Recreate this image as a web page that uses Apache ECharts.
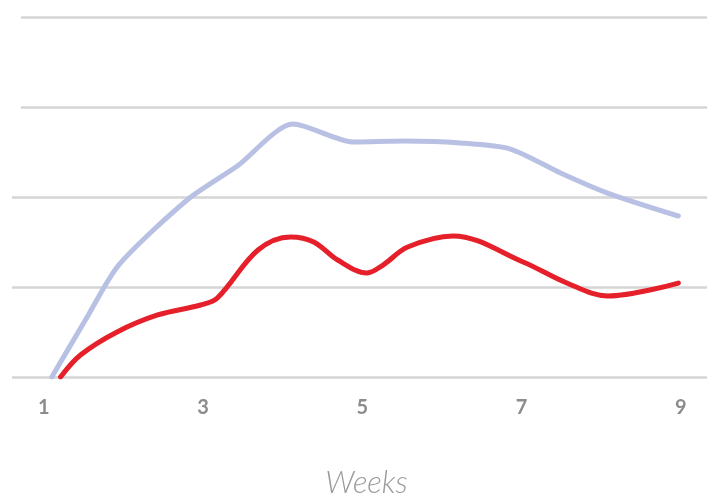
<!DOCTYPE html>
<html>
<head>
<meta charset="utf-8">
<script src="https://cdn.jsdelivr.net/npm/echarts@6/dist/echarts.min.js"></script>
<style>
  html, body { margin: 0; padding: 0; background: #ffffff; }
  #chart { width: 707px; height: 494px; }
</style>
</head>
<body>
<div id="chart"></div>
<script>
// Week ticks shown along the bottom
const weekTicks = [1, 3, 5, 7, 9];

// Upper (lavender) series: [week, value]
const upperWeeks  = [1.10, 1.52, 1.94, 2.80, 3.43, 4.13, 4.89, 5.54, 6.23, 6.86, 7.49, 8.08, 8.97];
const upperValues = [0, 6.3, 12.44, 19.67, 23.44, 28.11, 26.11, 26.22, 26.0, 25.33, 22.67, 20.44, 17.89];

// Lower (red) series: [week, value]
const lowerWeeks  = [1.21, 1.46, 1.92, 2.43, 2.97, 3.18, 3.69, 4.10, 4.39, 4.69, 5.06, 5.26, 5.57, 6.14, 7.02, 7.57, 8.08, 8.97];
const lowerValues = [0, 2.44, 5.0, 6.89, 8.0, 8.78, 14.11, 15.56, 15.0, 13.0, 11.56, 12.44, 14.44, 15.67, 12.78, 10.44, 9.0, 10.44];

const zip = (xs, ys) => xs.map((x, i) => [x, ys[i]]);

const gridColor = '#d5d5d5';
const clear = 'rgba(0,0,0,0)';

const chart = echarts.init(document.getElementById('chart'), null, { renderer: 'canvas' });

chart.setOption({
  animation: false,
  backgroundColor: '#ffffff',
  grid: [
    { left: 12, right: 0, top: 17, height: 360, outerBoundsMode: 'none', containLabel: false },
    { left: 21, right: 0, top: 17, height: 360, outerBoundsMode: 'none', containLabel: false }
  ],
  xAxis: [
    {
      type: 'value',
      gridIndex: 0,
      min: 0.6,
      max: 9.33,
      splitLine: { show: false },
      axisLine: { show: false },
      axisTick: { show: false },
      axisLabel: {
        customValues: weekTicks,
        color: '#8c8c8c',
        fontFamily: 'Lato',
        fontWeight: 'bold',
        fontSize: 20,
        margin: 21
      },
      name: 'Weeks',
      nameLocation: 'middle',
      nameGap: 90,
      nameTextStyle: {
        color: '#9a9a9a',
        fontFamily: 'Lato',
        fontStyle: 'italic',
        fontWeight: 300,
        fontSize: 31,
        padding: [0, 0, 0, 14]
      }
    },
    {
      type: 'value',
      gridIndex: 1,
      min: 0.6,
      max: 9.33,
      show: false
    }
  ],
  yAxis: [
    {
      type: 'value',
      gridIndex: 0,
      min: 0,
      max: 40,
      interval: 10,
      axisLine: { show: false },
      axisTick: { show: false },
      axisLabel: { show: false },
      splitLine: {
        lineStyle: { color: [gridColor, gridColor, gridColor, clear, clear], width: 2.5 }
      }
    },
    {
      type: 'value',
      gridIndex: 1,
      min: 0,
      max: 40,
      interval: 10,
      axisLine: { show: false },
      axisTick: { show: false },
      axisLabel: { show: false },
      splitLine: {
        lineStyle: { color: [clear, clear, clear, gridColor, gridColor], width: 2.5 }
      }
    }
  ],
  series: [
    {
      type: 'line',
      xAxisIndex: 0,
      yAxisIndex: 0,
      data: zip(upperWeeks, upperValues),
      smooth: 0.25,
      showSymbol: false,
      lineStyle: { color: '#b8c0e3', width: 5, cap: 'round', join: 'round' },
      z: 2
    },
    {
      type: 'line',
      xAxisIndex: 0,
      yAxisIndex: 0,
      data: zip(lowerWeeks, lowerValues),
      smooth: 0.35,
      showSymbol: false,
      lineStyle: { color: '#e5202a', width: 5, cap: 'round', join: 'round' },
      z: 3
    }
  ]
});
</script>
</body>
</html>
